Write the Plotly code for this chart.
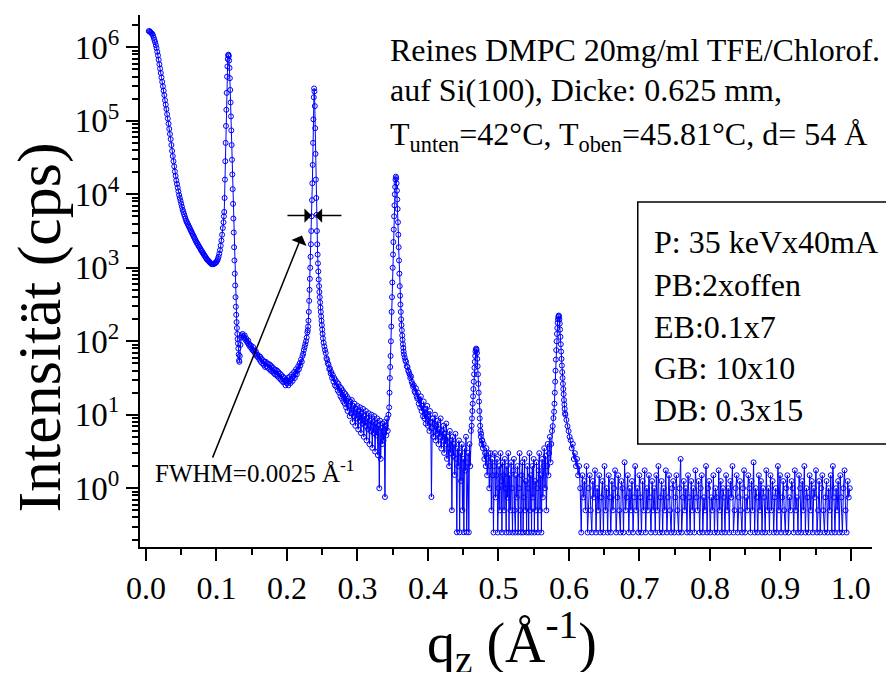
import numpy as np
import plotly.graph_objects as go

# X-ray reflectivity scan of DMPC on Si(100).
# Strong parts are read as log10(cps), the noisy tail as counts in 1/4 cps steps.

# smooth decay + first minimum, q from 0.004 step 0.001
q0_a, dq_a = 0.004, 0.001
log_i_a = [6.22, 6.22, 6.21, 6.20, 6.19, 6.18, 6.16, 6.13, 6.10, 6.07,
           6.03, 5.99, 5.94, 5.89, 5.83, 5.77, 5.71, 5.65, 5.59, 5.53,
           5.47, 5.41, 5.35, 5.28, 5.22, 5.16, 5.09, 5.03, 4.96, 4.89,
           4.82, 4.75, 4.67, 4.59, 4.52, 4.45, 4.38, 4.31, 4.25, 4.19,
           4.14, 4.09, 4.04, 3.99, 3.95, 3.91, 3.87, 3.83, 3.79, 3.76,
           3.73, 3.70, 3.67, 3.64, 3.62, 3.60, 3.58, 3.56, 3.54, 3.52,
           3.50, 3.48, 3.46, 3.44, 3.42, 3.40, 3.38, 3.36, 3.34, 3.33,
           3.31, 3.29, 3.28, 3.26, 3.24, 3.23, 3.21, 3.20, 3.18, 3.17,
           3.15, 3.14, 3.12, 3.11, 3.10, 3.09, 3.08, 3.07, 3.06, 3.05,
           3.05, 3.05, 3.05, 3.06, 3.06, 3.07, 3.08, 3.10, 3.12, 3.15,
           3.19, 3.24, 3.30, 3.37, 3.45, 3.54, 3.62]

# 1st Bragg peak
q0_p1, dq_p1 = 0.1105, 0.0005
log_i_p1 = [3.70, 3.76, 3.95, 4.20, 4.45, 4.70, 4.93, 5.15, 5.38, 5.60,
            5.74, 5.84, 5.89, 5.90, 5.88, 5.82, 5.72, 5.58, 5.42, 5.25,
            5.06, 4.87, 4.67, 4.47, 4.27, 4.07, 3.87, 3.67, 3.48, 3.28,
            3.10, 2.92, 2.76, 2.60, 2.47, 2.36, 2.26, 2.18, 2.10, 2.03,
            1.97, 1.90, 1.82, 1.74, 1.72]

q0_c, dq_c = 0.133, 0.001
log_i_c = [1.80, 1.95, 2.05, 2.08, 2.10, 2.07, 2.05, 2.08, 2.02, 2.04,
           2.00, 1.98, 2.01, 1.95, 1.96, 1.92, 1.94, 1.90, 1.88, 1.92,
           1.86, 1.87, 1.83, 1.86, 1.80, 1.82, 1.78, 1.80, 1.75, 1.79,
           1.72, 1.76, 1.70, 1.74, 1.68, 1.72, 1.65, 1.72, 1.66, 1.70,
           1.64, 1.69, 1.62, 1.68, 1.60, 1.66, 1.59, 1.64, 1.57, 1.62,
           1.55, 1.61, 1.54, 1.60, 1.52, 1.58, 1.50, 1.56, 1.48, 1.54,
           1.46, 1.52, 1.44, 1.50, 1.46, 1.40, 1.48, 1.43, 1.50, 1.40,
           1.45, 1.52, 1.43, 1.48, 1.55, 1.46, 1.52, 1.58, 1.50, 1.56,
           1.62, 1.55, 1.60, 1.66, 1.62, 1.70, 1.67, 1.75, 1.72, 1.80,
           1.83, 1.88, 1.92, 1.96, 2.00, 2.05, 2.12]

# 2nd Bragg peak
q0_p2, dq_p2 = 0.2295, 0.0005
log_i_p2 = [2.15, 2.20, 2.28, 2.40, 2.55, 2.70, 2.85, 3.00, 3.15, 3.32,
            3.50, 3.70, 3.92, 4.15, 4.40, 4.70, 5.02, 5.32, 5.44, 5.40,
            5.20, 4.90, 4.55, 4.20, 3.95, 3.72, 3.50, 3.32, 3.18, 3.06,
            2.95, 2.84, 2.75, 2.67, 2.60, 2.53, 2.46, 2.40, 2.34, 2.28,
            2.22, 2.16, 2.10]

q0_e, dq_e = 0.251, 0.001
log_i_e = [2.04, 1.98, 1.93, 1.88, 1.84, 1.77, 1.75, 1.70, 1.68, 1.62,
           1.63, 1.56, 1.58, 1.50, 1.54, 1.45, 1.50, 1.40, 1.47, 1.38,
           1.44, 1.33, 1.42, 1.30, 1.38, 1.25, 1.36, 1.22, 1.33, 1.18,
           1.30, 1.15, 1.28, 1.10, 1.25, 1.05, 1.22, 1.12, 0.98, 1.18,
           1.02, 1.20, 0.90, 1.12, 0.98, 1.15, 0.85, 1.08, 0.95, 1.12,
           0.80, 1.05, 0.92, 1.10, 0.75, 1.02, 0.88, 1.08, 0.70, 0.98,
           0.85, 1.05, 0.65, 0.95, 0.80, 1.02, 0.60, 0.92, 0.78, 1.00,
           0.55, 0.90, 0.75, 0.98, 0.50, 0.88, 0.72, 0.95, 0.45, 0.85,
           0.00, 0.92, 0.40, 0.82, 0.60, 0.88, 0.65, 0.90, -0.12, 0.85,
           0.72, 0.95, 0.78, 1.00, 1.10]

# 3rd Bragg peak
q0_p3, dq_p3 = 0.3455, 0.0005
log_i_p3 = [1.30, 1.50, 1.65, 1.80, 2.00, 2.20, 2.40, 2.60, 2.80, 3.00,
            3.18, 3.35, 3.52, 3.70, 3.85, 4.00, 4.10, 4.20, 4.24, 4.22,
            4.15, 4.05, 3.93, 3.80, 3.62, 3.45, 3.28, 3.10, 2.92, 2.75,
            2.62, 2.50, 2.40, 2.30, 2.22, 2.15, 2.08, 2.02, 1.96, 1.91,
            1.86]

q0_g, dq_g = 0.366, 0.001
log_i_g = [1.82, 1.78, 1.74, 1.72, 1.66, 1.65, 1.60, 1.58, 1.55, 1.50,
           1.52, 1.45, 1.42, 1.38, 1.40, 1.32, 1.30, 1.36, 1.25, 1.22,
           1.30, 1.15, 1.20, 1.10, 1.25, 1.05, 1.12, 0.98, 1.18, 0.95,
           1.08, 0.88, 1.02, 1.12, 0.85, 0.98, 0.78, 1.05, 0.90, -0.12,
           0.82, 0.95, 0.70, 0.88, 1.00, 0.65, 0.85, 0.74, 0.92, 0.60,
           0.80, 0.70, 0.95, 0.54, 0.78, 0.65, 0.85, 0.48, 0.74, 0.60,
           0.88, 0.40, 0.70, 0.54, 0.30, 0.78, 0.48, 0.65, -0.30, 0.70,
           0.44, 0.60, 0.18, 0.74, 0.40, -0.60, 0.54, 0.30, 0.65, -0.60,
           0.48, 0.10, 0.60, -0.30, 0.40, -0.60, 0.54, 0.24, 0.70, -0.60,
           0.35, 0.48, -0.60, 0.60, 0.30, 0.78, 0.85]

# 4th Bragg peak
q0_p4, dq_p4 = 0.4625, 0.0005
log_i_p4 = [0.95, 1.05, 1.15, 1.25, 1.35, 1.45, 1.55, 1.64, 1.72, 1.80,
            1.86, 1.89, 1.90, 1.88, 1.84, 1.76, 1.66, 1.55, 1.42, 1.30,
            1.18, 1.05, 0.95, 0.85, 0.78, 0.70, 0.74, 0.60, 0.65]

# noise between 4th and 5th peak, counts in quarter cps
q0_i, dq_i = 0.477, 0.001
quarters_i = [18, 14, 16, 10, 12, 8, 14, 6, 10, 12,
              4, 8, 12, 2, 10, 6, 1, 8, 12, 3,
              6, 10, 1, 4, 8, 2, 12, 5, 1, 9,
              6, 2, 10, 4, 1, 8, 3, 12, 1, 6,
              2, 9, 4, 1, 7, 10, 2, 1, 6, 3,
              8, 1, 4, 12, 2, 1, 6, 9, 1, 3,
              10, 2, 5, 1, 8, 4, 1, 12, 2, 6,
              1, 8, 3, 10, 1, 5, 2, 9, 4, 1,
              7, 12, 2, 6, 1, 10, 3, 8, 14, 4,
              11, 2, 8, 16, 6, 12, 20, 9, 16, 24,
              28, 36, 44]

# 5th Bragg peak
q0_p5, dq_p5 = 0.5795, 0.0005
log_i_p5 = [1.15, 1.30, 1.45, 1.60, 1.75, 1.88, 2.00, 2.10, 2.18, 2.25,
            2.30, 2.33, 2.35, 2.34, 2.30, 2.24, 2.16, 2.06, 1.96, 1.86,
            1.76, 1.67, 1.58, 1.50, 1.42, 1.35, 1.28, 1.20, 1.14, 1.08,
            1.02]

# background tail, counts in quarter cps
q0_k, dq_k = 0.595, 0.0015
quarters_k = [40, 34, 28, 24, 20, 18, 14, 16, 10, 12, 8, 10, 6, 8, 4,
              1, 6, 3, 5, 2, 8, 1, 4, 6, 2, 1, 5, 3, 7, 1,
              4, 2, 6, 1, 3, 5, 1, 8, 2, 4, 1, 6, 3, 1, 5,
              2, 4, 7, 1, 3, 6, 2, 1, 5, 4, 1, 9, 2, 3, 6,
              1, 4, 2, 5, 1, 3, 8, 2, 4, 1, 6, 3, 1, 5, 2,
              7, 1, 4, 2, 6, 3, 1, 5, 2, 4, 1, 6, 2, 8, 1,
              3, 5, 1, 4, 2, 7, 1, 3, 6, 2, 1, 4, 5, 1, 3,
              6, 2, 1, 4, 10, 1, 3, 5, 2, 4, 1, 6, 3, 1, 5,
              2, 4, 1, 7, 3, 2, 5, 1, 4, 6, 1, 3, 2, 8, 1,
              4, 5, 1, 3, 2, 6, 1, 4, 3, 1, 7, 2, 5, 1, 4,
              3, 1, 6, 2, 4, 1, 5, 3, 8, 1, 2, 4, 6, 1, 3,
              5, 2, 1, 4, 7, 1, 3, 2, 6, 4, 1, 5, 2, 9, 1,
              4, 3, 1, 6, 2, 5, 1, 4, 3, 1, 7, 2, 4, 1, 6,
              2, 5, 1, 3, 4, 1, 8, 2, 6, 1, 3, 5, 2, 1, 4,
              6, 1, 3, 2, 5, 4, 1, 7, 2, 3, 1, 6, 4, 1, 5,
              2, 8, 1, 4, 3, 1, 6, 2, 5, 1, 4, 3, 7, 1, 2,
              5, 1, 4, 6, 2, 1, 3, 5, 1, 4, 2, 6, 1, 8, 3,
              1, 4, 2, 5, 1, 6, 3, 1, 4, 7, 2, 1, 5, 3, 4]

y_decades = [0, 1, 2, 3, 4, 5, 6]
x_ticks = [0.0, 0.1, 0.2, 0.3, 0.4, 0.5, 0.6, 0.7, 0.8, 0.9, 1.0]

box_lines = ["P: 35 keVx40mA", "PB:2xoffen", "EB:0.1x7", "GB: 10x10", "DB: 0.3x15"]
info_lines = ["Reines DMPC 20mg/ml TFE/Chlorof.",
              "auf Si(100), Dicke: 0.625 mm,",
              "T<sub>unten</sub>=42°C, T<sub>oben</sub>=45.81°C, d= 54 Å"]


def grid(q0, dq, vals):
    return q0 + dq * np.arange(len(vals))


log_parts = [(q0_a, dq_a, log_i_a), (q0_p1, dq_p1, log_i_p1), (q0_c, dq_c, log_i_c),
             (q0_p2, dq_p2, log_i_p2), (q0_e, dq_e, log_i_e), (q0_p3, dq_p3, log_i_p3),
             (q0_g, dq_g, log_i_g), (q0_p4, dq_p4, log_i_p4)]
q_all, i_all = [], []
for q0, dq, v in log_parts:
    q_all.append(grid(q0, dq, v))
    i_all.append(10 ** np.array(v))
q_all.append(grid(q0_i, dq_i, quarters_i))
i_all.append(np.array(quarters_i) / 4)
q_all.append(grid(q0_p5, dq_p5, log_i_p5))
i_all.append(10 ** np.array(log_i_p5))
q_all.append(grid(q0_k, dq_k, quarters_k))
i_all.append(np.array(quarters_k) / 4)
q = np.concatenate(q_all)
inten = np.concatenate(i_all)

SERIF = "Liberation Serif"
BLUE = "#0000ff"

fig = go.Figure()
fig.add_trace(go.Scatter(
    x=q, y=inten, mode="lines+markers",
    line=dict(color=BLUE, width=1),
    marker=dict(symbol="circle-open", size=5, color=BLUE, line=dict(width=1, color=BLUE)),
    showlegend=False,
))

minor_vals = [m * 10 ** e for e in range(-1, 7) for m in range(2, 10)]

# page body has an 8px margin, so the figure is a bit smaller than the window
fig.update_layout(
    width=880, height=664, autosize=False,
    margin=dict(l=132, r=16, t=7, b=125),
    paper_bgcolor="white", plot_bgcolor="white",
    font=dict(family=SERIF, color="black"),
    xaxis=dict(
        range=[-0.0085, 1.03], tickvals=x_ticks, tickformat=".1f",
        automargin=False,
        showline=True, linecolor="black", linewidth=2, mirror=False,
        ticks="outside", ticklen=12, tickwidth=2, tickcolor="black",
        showgrid=False, zeroline=False,
        tickfont=dict(family=SERIF, size=32, color="black"),
        minor=dict(dtick=0.05, ticks="outside", ticklen=6, tickwidth=2,
                   tickcolor="black", showgrid=False),
    ),
    yaxis=dict(
        type="log", range=[-0.80, 6.44],
        automargin=False,
        tickvals=[10 ** d for d in y_decades],
        ticktext=["10<sup>%d</sup>" % d for d in y_decades],
        showline=True, linecolor="black", linewidth=2, mirror=False,
        ticks="outside", ticklen=12, tickwidth=2, tickcolor="black",
        showgrid=False, zeroline=False,
        tickfont=dict(family=SERIF, size=33, color="black"),
        minor=dict(tickvals=minor_vals, ticks="outside", ticklen=6, tickwidth=2,
                   tickcolor="black", showgrid=False),
    ),
)

ann = []
# axis titles
ann.append(dict(text="Intensität (cps)", xref="paper", yref="paper", x=-0.137, y=0.412,
                xanchor="center", yanchor="middle",
                textangle=-90, showarrow=False, font=dict(family=SERIF, size=62)))
ann.append(dict(text="q<sub>z</sub> (Å<sup>-1</sup>)", xref="paper", yref="paper",
                x=0.508, y=-0.179, xanchor="center", yanchor="middle",
                showarrow=False, font=dict(family=SERIF, size=56)))
# sample info, top right
for txt, yy in zip(info_lines, [0.934, 0.859, 0.772]):
    ann.append(dict(text=txt, xref="paper", yref="paper", x=0.339, y=yy,
                    xanchor="left", yanchor="middle", showarrow=False,
                    font=dict(family=SERIF, size=32)))
# slit settings box
for txt, yy in zip(box_lines, [0.573, 0.492, 0.414, 0.336, 0.258]):
    ann.append(dict(text=txt, xref="paper", yref="paper", x=0.699, y=yy,
                    xanchor="left", yanchor="middle", showarrow=False,
                    font=dict(family=SERIF, size=32)))
# FWHM label + arrow to the 2nd peak
ann.append(dict(text="FWHM=0.0025 Å<sup>-1</sup>", xref="x", yref="y", x=0.1546, y=0.232,
                xanchor="center", yanchor="middle",
                showarrow=False, font=dict(family=SERIF, size=25)))
ann.append(dict(text="", xref="x", yref="y", x=0.2213, y=3.44, axref="x", ayref="y",
                ax=0.0936, ay=0.396, showarrow=True, arrowhead=1, arrowsize=1.8,
                arrowwidth=1.5, arrowcolor="black"))
# width markers
ann.append(dict(text="", xref="x", yref="y", x=0.2350, y=3.71, axref="x", ayref="y",
                ax=0.1986, ay=3.71, showarrow=True, arrowhead=1, arrowsize=1.6,
                arrowwidth=1.5, arrowcolor="black"))
ann.append(dict(text="", xref="x", yref="y", x=0.2397, y=3.71, axref="x", ayref="y",
                ax=0.2794, ay=3.71, showarrow=True, arrowhead=1, arrowsize=1.6,
                arrowwidth=1.5, arrowcolor="black"))
fig.update_layout(annotations=ann)

fig.add_shape(type="rect", xref="paper", yref="paper", x0=0.680, x1=1.05, y0=0.1936, y1=0.6485,
              line=dict(color="black", width=1.5), fillcolor="rgba(0,0,0,0)")

fig.write_html("out.html")
